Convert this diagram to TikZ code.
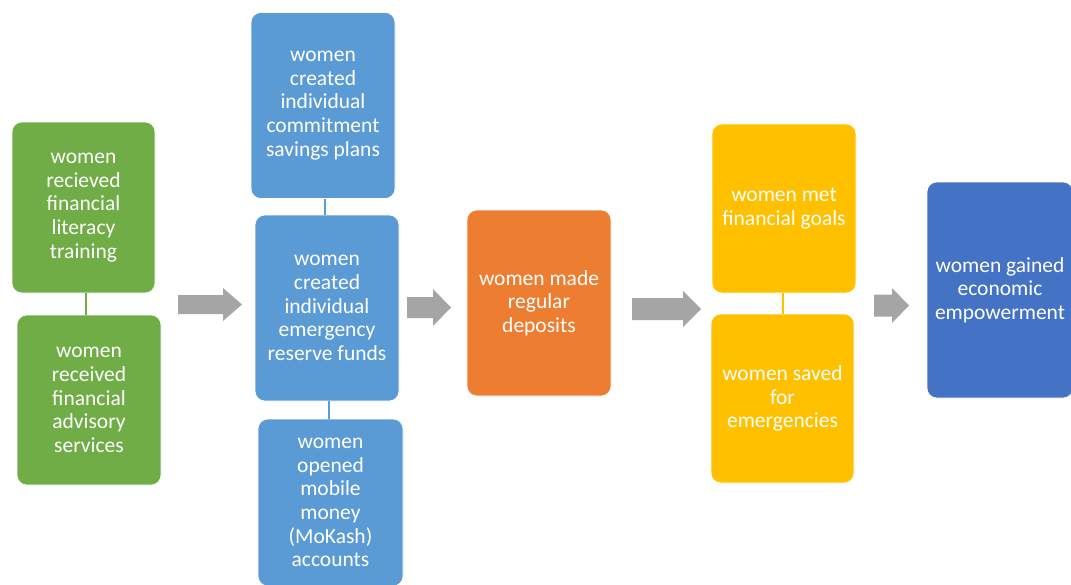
\documentclass[tikz,border=0pt]{standalone}
\usepackage{fontspec}
\setmainfont{Carlito}
\definecolor{cgreen}{HTML}{70AD47}
\definecolor{cblue}{HTML}{5B9BD5}
\definecolor{corange}{HTML}{ED7D31}
\definecolor{cyellow}{HTML}{FFC000}
\definecolor{cdblue}{HTML}{4472C4}
\definecolor{cgray}{HTML}{A5A5A5}
\newcommand\blockarr[6]{%
  \fill[cgray] (#1,#4-#5) -- (#3,#4-#5) -- (#3,#4-#6) -- (#2,#4) -- (#3,#4+#6) -- (#3,#4+#5) -- (#1,#4+#5) -- cycle;}
\begin{document}
\begin{tikzpicture}[x=1pt,y=-1pt,
  box/.style={draw=white, line width=0.6pt, rounded corners=10pt, text=white, align=center,
    inner sep=0pt, font=\fontsize{21.5}{23.7}\selectfont},
  link/.style={line width=2pt}]
\useasboundingbox (0,0) rectangle (1071,584);
\begin{scope}
\clip (0,0) rectangle (1071,584);
% green
\node[box, fill=cgreen, minimum width=143pt, minimum height=171pt] (g1) at (83.5,207.5)
  {women\\recieved\\financial\\literacy\\training};
\node[box, fill=cgreen, minimum width=144pt, minimum height=170pt] (g2) at (89,400)
  {women\\received\\financial\\advisory\\services};
% blue column
\node[box, fill=cblue, minimum width=144pt, minimum height=186pt] (b1) at (323,105.5)
  {women\\created\\individual\\commitment\\savings plans};
\node[box, fill=cblue, minimum width=144pt, minimum height=186pt] (b2) at (327,308)
  {women\\created\\individual\\emergency\\reserve funds};
\node[box, fill=cblue, minimum width=145pt, minimum height=167pt] (b3) at (330.5,502.5)
  {women\\opened\\mobile\\money\\(MoKash)\\accounts};
% orange
\node[box, fill=corange, minimum width=144pt, minimum height=186pt] (o1) at (539,303)
  {women made\\regular\\deposits};
% yellow
\node[box, fill=cyellow, minimum width=144pt, minimum height=169pt] (y1) at (784,208.5)
  {women met\\financial goals};
\node[box, fill=cyellow, minimum width=143pt, minimum height=169pt] (y2) at (782.5,398.5)
  {women saved\\for\\emergencies};
% dark blue
\node[box, fill=cdblue, minimum width=146pt, minimum height=216pt] (d1) at (1000,290)
  {women gained\\economic\\empowerment};
\end{scope}
% connectors
\coordinate (cg) at (86,0);
\coordinate (cb1) at (325,0);
\coordinate (cb2) at (328.5,0);
\coordinate (cy) at (783,0);
\draw[link, cgreen] (cg |- g1.south) -- (cg |- g2.north);
\draw[link, cblue] (cb1 |- b1.south) -- (cb1 |- b2.north);
\draw[link, cblue] (cb2 |- b2.south) -- (cb2 |- b3.north);
\draw[link, cyellow] (cy |- y1.south) -- (cy |- y2.north);
% block arrows
\blockarr{178}{242}{223}{304.5}{9.5}{16.5}
\blockarr{407}{451}{433}{307.5}{10.5}{18.5}
\blockarr{632}{701}{683}{309}{11}{18}
\blockarr{874}{909}{892}{305.5}{11}{17.5}
\end{tikzpicture}
\end{document}
